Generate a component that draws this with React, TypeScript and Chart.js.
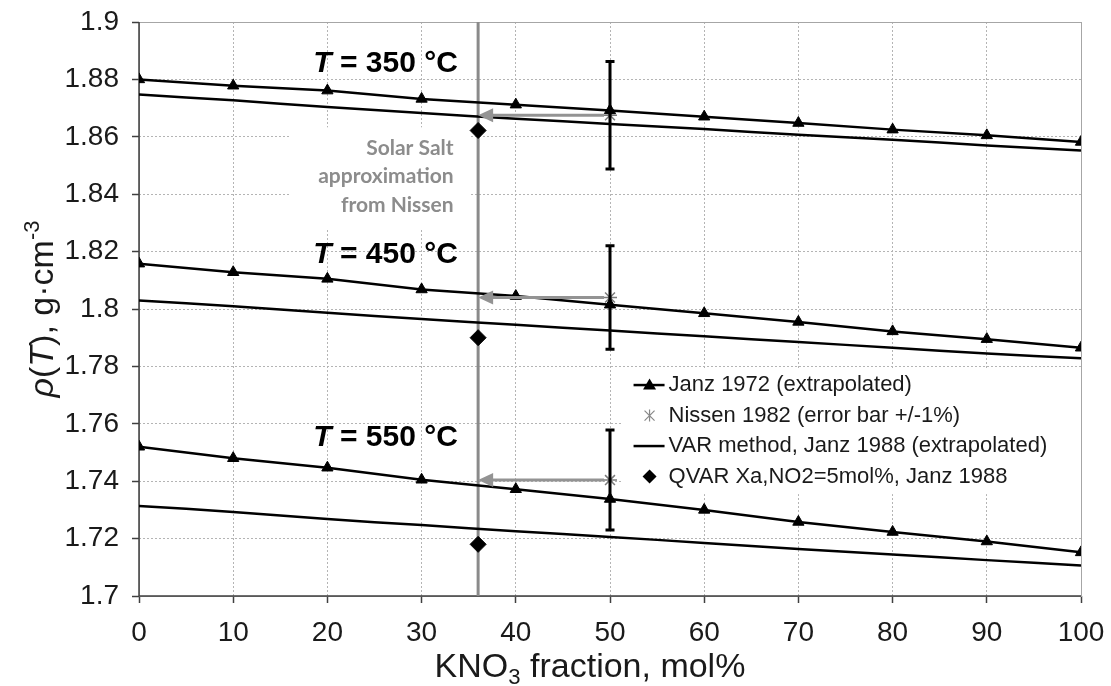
import React, { useEffect, useRef } from "react";
import { Chart, registerables } from "chart.js";

Chart.register(...registerables);

// ---------- data ----------
const kno3Fraction = [0, 10, 20, 30, 40, 50, 60, 70, 80, 90, 100];

const janz1972_350 = [1.88, 1.8778, 1.8761, 1.8732, 1.8712, 1.8692, 1.867, 1.8648, 1.8625, 1.8605, 1.8582];
const janz1972_450 = [1.8158, 1.8128, 1.8105, 1.8068, 1.8045, 1.8015, 1.7985, 1.7955, 1.7922, 1.7895, 1.7865];
const janz1972_550 = [1.752, 1.748, 1.7447, 1.7405, 1.7372, 1.7338, 1.73, 1.7258, 1.7223, 1.719, 1.7152];

const var1988_350 = [1.8747, 1.8727, 1.8704, 1.8683, 1.8663, 1.8645, 1.8627, 1.8607, 1.859, 1.857, 1.8552];
const var1988_450 = [1.803, 1.801, 1.7987, 1.7965, 1.7945, 1.7925, 1.7905, 1.7885, 1.7865, 1.7845, 1.7828];
const var1988_550 = [1.7314, 1.7293, 1.7268, 1.7247, 1.7226, 1.7206, 1.7185, 1.7164, 1.7145, 1.7125, 1.7106];

const nissenX = [50, 50, 50];
const nissenRho = [1.8675, 1.804, 1.7404];
const nissenErr = [0.0187, 0.018, 0.0174];

const qvarX = [36, 36, 36];
const qvarRho = [1.8622, 1.79, 1.718];

const solarSaltX = 36;

const temperatures = ["350", "450", "550"];
const solarSaltText = ["Solar Salt", "approximation", "from Nissen"];
const legendLabels = [
  "Janz 1972 (extrapolated)",
  "Nissen 1982 (error bar +/-1%)",
  "VAR method, Janz 1988 (extrapolated)",
  "QVAR Xa,NO2=5mol%, Janz 1988",
];

const FONT = "'Liberation Sans', Arial, sans-serif";
const GRAY_TEXT = "#8c8c8c";

const pts = (xs: number[], ys: number[]) => xs.map((x, i) => ({ x, y: ys[i] }));

const janzStyle = {
  borderColor: "#000",
  backgroundColor: "#000",
  borderWidth: 2.5,
  pointStyle: "triangle" as const,
  pointRadius: 6.5,
  pointBorderWidth: 1,
  showLine: true,
  tension: 0,
};
const varStyle = {
  borderColor: "#000",
  borderWidth: 2.5,
  pointRadius: 0,
  showLine: true,
  tension: 0.3,
};

export default function App() {
  const ref = useRef<HTMLCanvasElement | null>(null);

  useEffect(() => {
    const canvas = ref.current;
    if (!canvas) return;

    const overlay = {
      id: "overlay",
      beforeDatasetsDraw(chart: any) {
        const { ctx, chartArea } = chart;
        const sx = chart.scales.x;
        const sy = chart.scales.y;
        ctx.save();
        // white box behind the Solar Salt note
        ctx.fillStyle = "#fff";
        ctx.fillRect(sx.getPixelForValue(16), sy.getPixelForValue(1.8633), sx.getPixelForValue(35.1) - sx.getPixelForValue(16), sy.getPixelForValue(1.8281) - sy.getPixelForValue(1.8633));
        // white legend box
        ctx.fillRect(sx.getPixelForValue(51.2), sy.getPixelForValue(1.7794), sx.getPixelForValue(100) - sx.getPixelForValue(51.2), sy.getPixelForValue(1.7355) - sy.getPixelForValue(1.7794));
        // plot border
        ctx.strokeStyle = "#a6a6a6";
        ctx.lineWidth = 1;
        ctx.strokeRect(chartArea.left + 0.5, chartArea.top + 0.5, chartArea.right - chartArea.left, chartArea.bottom - chartArea.top);
        ctx.strokeStyle = "#404040";
        ctx.lineWidth = 1.5;
        ctx.beginPath();
        ctx.moveTo(chartArea.left, chartArea.top);
        ctx.lineTo(chartArea.left, chartArea.bottom);
        ctx.lineTo(chartArea.right, chartArea.bottom);
        ctx.stroke();
        // solar salt vertical line
        const vx = sx.getPixelForValue(solarSaltX);
        ctx.strokeStyle = "#8a8a8a";
        ctx.lineWidth = 3;
        ctx.beginPath();
        ctx.moveTo(vx, chartArea.top);
        ctx.lineTo(vx, chartArea.bottom);
        ctx.stroke();
        // Solar salt text
        ctx.fillStyle = GRAY_TEXT;
        ctx.font = `bold 21px Lato, 'Open Sans', sans-serif`;
        ctx.textAlign = "right";
        ctx.textBaseline = "middle";
        const rx = sx.getPixelForValue(33.4);
        const baseY = sy.getPixelForValue(1.8561);
        solarSaltText.forEach((t, i) => ctx.fillText(t, rx, baseY + i * 28.5));
        ctx.restore();
      },
      afterDatasetsDraw(chart: any) {
        const { ctx } = chart;
        const sx = chart.scales.x;
        const sy = chart.scales.y;
        ctx.save();
        // arrows from Nissen point to solar salt line
        ctx.strokeStyle = "#939393";
        ctx.fillStyle = "#939393";
        ctx.lineWidth = 3;
        nissenRho.forEach((r, i) => {
          const x0 = sx.getPixelForValue(nissenX[i]) - 6;
          const x1 = sx.getPixelForValue(solarSaltX);
          const y = sy.getPixelForValue(r);
          ctx.beginPath();
          ctx.moveTo(x0, y);
          ctx.lineTo(x1 + 12, y);
          ctx.stroke();
          ctx.beginPath();
          ctx.moveTo(x1, y);
          ctx.lineTo(x1 + 15, y - 7);
          ctx.lineTo(x1 + 15, y + 7);
          ctx.closePath();
          ctx.fill();
        });
        // error bars
        ctx.strokeStyle = "#000";
        ctx.lineWidth = 3;
        nissenRho.forEach((r, i) => {
          const x = sx.getPixelForValue(nissenX[i]);
          const yt = sy.getPixelForValue(r + nissenErr[i]);
          const yb = sy.getPixelForValue(r - nissenErr[i]);
          ctx.beginPath();
          ctx.moveTo(x, yt);
          ctx.lineTo(x, yb);
          ctx.moveTo(x - 4.5, yt);
          ctx.lineTo(x + 4.5, yt);
          ctx.moveTo(x - 4.5, yb);
          ctx.lineTo(x + 4.5, yb);
          ctx.stroke();
        });
        // temperature labels
        const labelY = [1.8854, 1.8188, 1.755];
        ctx.fillStyle = "#000";
        ctx.textBaseline = "middle";
        ctx.textAlign = "left";
        temperatures.forEach((t, i) => {
          const x = sx.getPixelForValue(18.5);
          const y = sy.getPixelForValue(labelY[i]);
          ctx.font = `italic bold 30px ${FONT}`;
          ctx.fillText("T", x, y);
          const w = ctx.measureText("T").width;
          ctx.font = `bold 30px ${FONT}`;
          ctx.fillText(` = ${t} °C`, x + w, y);
        });
        ctx.restore();
      },
      afterDraw(chart: any) {
        const { ctx, chartArea } = chart;
        const sx = chart.scales.x;
        const sy = chart.scales.y;
        ctx.save();
        // legend
        const lx = sx.getPixelForValue(52.5);
        const ly0 = sy.getPixelForValue(1.7735);
        const step = 30.5;
        ctx.font = `22px ${FONT}`;
        ctx.fillStyle = "#1a1a1a";
        ctx.textBaseline = "middle";
        ctx.textAlign = "left";
        legendLabels.forEach((t, i) => {
          const y = ly0 + i * step;
          const cx = lx + 16;
          ctx.save();
          if (i === 0 || i === 2) {
            ctx.strokeStyle = "#000";
            ctx.lineWidth = 2.5;
            ctx.beginPath();
            ctx.moveTo(lx, y);
            ctx.lineTo(lx + 31, y);
            ctx.stroke();
          }
          if (i === 0) {
            ctx.fillStyle = "#000";
            ctx.beginPath();
            ctx.moveTo(cx, y - 6.5);
            ctx.lineTo(cx + 6.5, y + 4.5);
            ctx.lineTo(cx - 6.5, y + 4.5);
            ctx.closePath();
            ctx.fill();
          }
          if (i === 1) {
            ctx.strokeStyle = "#888";
            ctx.lineWidth = 1.2;
            const r = 5;
            ctx.beginPath();
            ctx.moveTo(cx - r, y - r); ctx.lineTo(cx + r, y + r);
            ctx.moveTo(cx - r, y + r); ctx.lineTo(cx + r, y - r);
            ctx.moveTo(cx, y - r - 1); ctx.lineTo(cx, y + r + 1);
            ctx.stroke();
          }
          if (i === 3) {
            ctx.fillStyle = "#000";
            ctx.beginPath();
            ctx.moveTo(cx, y - 7);
            ctx.lineTo(cx + 7, y);
            ctx.lineTo(cx, y + 7);
            ctx.lineTo(cx - 7, y);
            ctx.closePath();
            ctx.fill();
          }
          ctx.restore();
          ctx.fillText(t, lx + 35, y);
        });

        // x axis title
        ctx.fillStyle = "#1a1a1a";
        ctx.textBaseline = "alphabetic";
        const fs = 34;
        const parts: [string, number, number][] = [["KNO", fs, 0], ["3", fs * 0.65, 7], [" fraction, mol%", fs, 0]];
        let total = 0;
        parts.forEach(([s, f]) => { ctx.font = `${f}px ${FONT}`; total += ctx.measureText(s).width; });
        let x = 590 - total / 2;
        const by = 677;
        parts.forEach(([s, f, dy]) => {
          ctx.font = `${f}px ${FONT}`;
          ctx.fillText(s, x, by + dy);
          x += ctx.measureText(s).width;
        });

        // y axis title
        ctx.save();
        ctx.translate(53, (chartArea.top + chartArea.bottom) / 2);
        ctx.rotate(-Math.PI / 2);
        const yparts: [string, string, number][] = [
          ["ρ", `italic ${fs}px ${FONT}`, 0],
          ["(", `${fs}px ${FONT}`, 0],
          ["T", `italic ${fs}px ${FONT}`, 0],
          ["), g·cm", `${fs}px ${FONT}`, 0],
          ["-3", `${Math.round(fs * 0.65)}px ${FONT}`, -14],
        ];
        let tw = 0;
        yparts.forEach(([s, f]) => { ctx.font = f; tw += ctx.measureText(s).width; });
        let px = -tw / 2;
        yparts.forEach(([s, f, dy]) => {
          ctx.font = f;
          ctx.fillText(s, px, dy);
          px += ctx.measureText(s).width;
        });
        ctx.restore();
        ctx.restore();
      },
    };

    const chart = new Chart(canvas, {
      type: "scatter",
      data: {
        datasets: [
          { label: legendLabels[0], data: pts(kno3Fraction, janz1972_350), ...janzStyle },
          { label: legendLabels[0], data: pts(kno3Fraction, janz1972_450), ...janzStyle },
          { label: legendLabels[0], data: pts(kno3Fraction, janz1972_550), ...janzStyle },
          { label: legendLabels[2], data: pts(kno3Fraction, var1988_350), ...varStyle },
          { label: legendLabels[2], data: pts(kno3Fraction, var1988_450), ...varStyle },
          { label: legendLabels[2], data: pts(kno3Fraction, var1988_550), ...varStyle },
          {
            label: legendLabels[1],
            data: pts(nissenX, nissenRho),
            pointStyle: "star",
            pointRadius: 7,
            borderColor: "#7a7a7a",
            backgroundColor: "#7a7a7a",
            borderWidth: 1.5,
            showLine: false,
          },
          {
            label: legendLabels[3],
            data: pts(qvarX, qvarRho),
            pointStyle: "rectRot",
            pointRadius: 8,
            borderColor: "#000",
            backgroundColor: "#000",
            borderWidth: 1,
            showLine: false,
          },
        ],
      },
      options: {
        responsive: false,
        animation: false,
        devicePixelRatio: 1,
        layout: { padding: { top: 22, right: 30, left: 0, bottom: 0 } },
        plugins: { legend: { display: false }, tooltip: { enabled: false }, title: { display: false } },
        scales: {
          x: {
            type: "linear",
            min: 0,
            max: 100,
            afterFit: (s: any) => { s.height = 90; s.paddingLeft = 0; s.paddingRight = 0; },
            ticks: { stepSize: 10, font: { family: FONT, size: 28 }, color: "#1a1a1a", padding: 13 },
            grid: { color: "#b4b4b4", lineWidth: 1, tickLength: 7, tickColor: "#404040", tickWidth: 1.5 },
            border: { display: false, dash: [2, 2] },
          },
          y: {
            type: "linear",
            min: 1.7,
            max: 1.9,
            afterFit: (s: any) => { s.width = 139; s.paddingTop = 0; s.paddingBottom = 0; },
            ticks: {
              stepSize: 0.02,
              font: { family: FONT, size: 28 },
              color: "#1a1a1a",
              padding: 13,
              callback: (v: any) => String(parseFloat(Number(v).toFixed(2))),
            },
            grid: { color: "#b4b4b4", lineWidth: 1, tickLength: 7, tickColor: "#404040", tickWidth: 1.5 },
            border: { display: false, dash: [2, 2] },
          },
        },
      },
      plugins: [overlay],
    } as any);

    return () => chart.destroy();
  }, []);

  return (
    <div style={{ position: "fixed", left: 0, top: 0, width: 1111, height: 686, background: "#fff" }}>
      <canvas ref={ref} width={1111} height={686} style={{ display: "block" }} />
    </div>
  );
}
